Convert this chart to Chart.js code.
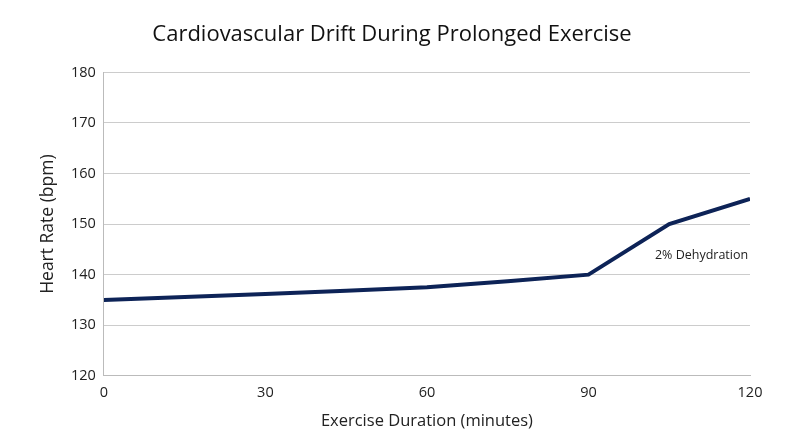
<!DOCTYPE html>
<html><head><meta charset="utf-8">
<script src="https://cdn.jsdelivr.net/npm/chart.js@4"></script>
<style>html,body{margin:0;padding:0;background:#fff}#w{width:800px;height:447px}</style>
</head><body><div id="w"><canvas id="c"></canvas></div>
<script>
const minutes = [0, 15, 30, 45, 60, 75, 90, 105, 120];
const heartRate = [135, 135.6, 136.2, 136.8, 137.5, 138.7, 140, 150, 155];
const xTicks = [0, 30, 60, 90, 120];
const annotationText = "2% Dehydration";
const annotationAt = {x: 111, y: 143.8};

const annot = {
  id: 'annot',
  afterDatasetsDraw(chart) {
    const {ctx, scales} = chart;
    ctx.save();
    ctx.font = '12.5px "Open Sans"';
    ctx.fillStyle = '#222';
    ctx.textAlign = 'center';
    ctx.textBaseline = 'middle';
    ctx.fillText(annotationText, scales.x.getPixelForValue(annotationAt.x), scales.y.getPixelForValue(annotationAt.y));
    ctx.restore();
  }
};

new Chart(document.getElementById('c'), {
  type: 'line',
  data: { datasets: [{
    data: minutes.map((m, i) => ({x: m, y: heartRate[i]})),
    borderColor: '#0d2357', borderWidth: 4, pointRadius: 0, tension: 0
  }]},
  options: {
    responsive: true, maintainAspectRatio: false, animation: false,
    layout: {padding: {left: 34, right: 50, top: 10, bottom: 12}},
    plugins: {
      legend: {display: false}, tooltip: {enabled: false},
      title: {display: true, text: 'Cardiovascular Drift During Prolonged Exercise',
        font: {family: 'Open Sans', size: 22, weight: 'normal'}, color: '#111', padding: {top: 12, bottom: 24}}
    },
    scales: {
      x: {type: 'linear', min: 0, max: 120,
        afterBuildTicks: s => { s.ticks = xTicks.map(v => ({value: v})); },
        grid: {display: false, drawTicks: false},
        border: {color: '#bbb'},
        ticks: {font: {family: 'Open Sans', size: 14.5}, color: '#222', padding: 8},
        title: {display: true, text: 'Exercise Duration (minutes)', font: {family: 'Open Sans', size: 16.5}, color: '#222', padding: {top: 2}}
      },
      y: {min: 120, max: 180,
        ticks: {stepSize: 10, font: {family: 'Open Sans', size: 14.5}, color: '#222', padding: 8},
        grid: {color: '#ccc', drawTicks: false},
        border: {color: '#bbb'},
        title: {display: true, text: 'Heart Rate (bpm)', font: {family: 'Open Sans', size: 17.5}, color: '#222'}
      }
    }
  },
  plugins: [annot]
});
</script></body></html>
